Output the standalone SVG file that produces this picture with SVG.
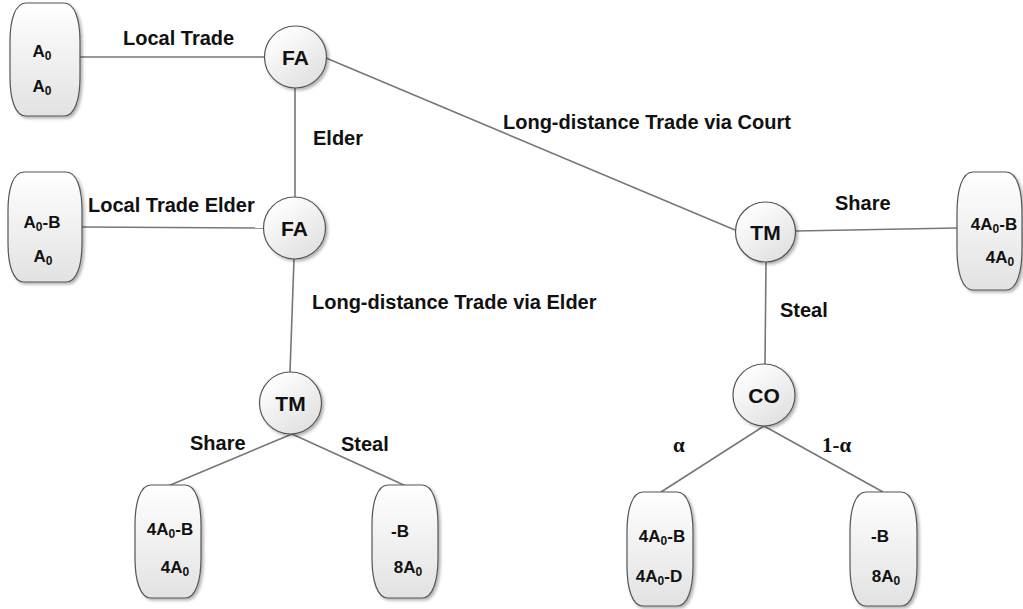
<svg xmlns="http://www.w3.org/2000/svg" width="1023" height="609" viewBox="0 0 1023 609">
<defs>
<linearGradient id="gT" x1="0" y1="0" x2="0" y2="1"><stop offset="0" stop-color="#ffffff"/><stop offset="1" stop-color="#e2e2e2"/></linearGradient>
<linearGradient id="gC" x1="0.2" y1="0.1" x2="0.8" y2="0.95"><stop offset="0" stop-color="#ffffff"/><stop offset="1" stop-color="#e0e0e0"/></linearGradient>
<filter id="sh" x="-20%" y="-20%" width="150%" height="150%"><feDropShadow dx="2" dy="2" stdDeviation="1.5" flood-color="#000" flood-opacity="0.3"/></filter>
</defs>
<style>
.conn line{stroke:#777;stroke-width:1.6;fill:none}
.term{fill:url(#gT);stroke:#555;stroke-width:1.2;filter:url(#sh)}
.circ{fill:url(#gC);stroke:#555;stroke-width:1.2;filter:url(#sh)}
.lbl{font-family:"Liberation Sans",Arial,sans-serif;font-weight:bold;font-size:20px;fill:#111}
.greek{font-family:"Liberation Serif","Times New Roman",serif;font-weight:bold;font-size:21px;fill:#111}
.nt{font-family:"Liberation Sans",Arial,sans-serif;font-weight:bold;font-size:21px;fill:#111;text-anchor:middle}
.tt{font-family:"Liberation Sans",Arial,sans-serif;font-weight:bold;font-size:17px;fill:#111;text-anchor:middle}
.sub{font-size:12px}
</style>
<rect width="1023" height="609" fill="#fff"/>
<g id="connectors" class="conn">
<line x1="80" y1="57" x2="264" y2="57"/>
<line x1="295" y1="88" x2="295" y2="197"/>
<line x1="326" y1="58" x2="735" y2="230"/>
<line x1="82" y1="227" x2="263" y2="228"/>
<line x1="294" y1="259" x2="290" y2="372"/>
<line x1="292" y1="434" x2="168" y2="486"/>
<line x1="292" y1="434" x2="406" y2="486"/>
<line x1="796" y1="231" x2="957" y2="228"/>
<line x1="766" y1="262" x2="765" y2="364"/>
<line x1="764" y1="426" x2="661" y2="492"/>
<line x1="764" y1="426" x2="883" y2="492"/>
</g>
<g id="labels">
<text class="lbl" x="123" y="45">Local Trade</text>
<text class="lbl" x="313" y="145">Elder</text>
<text class="lbl" x="503" y="129">Long-distance Trade via Court</text>
<text class="lbl" x="88" y="212">Local Trade Elder</text>
<text class="lbl" x="312" y="309">Long-distance Trade via Elder</text>
<text class="lbl" x="835" y="210">Share</text>
<text class="lbl" x="780" y="317">Steal</text>
<text class="lbl" x="190" y="450">Share</text>
<text class="lbl" x="341" y="451">Steal</text>
<text class="greek" x="673" y="452">α</text>
<text class="greek" x="822" y="452">1-α</text>
</g>
<g id="t_tl">
<path class="term" d="M26,3 H64 C75,3 80,20 80,42 V77 C80,99 75,116 64,116 H26 C15,116 10,99 10,77 V42 C10,20 15,3 26,3 Z"/>
<text class="tt" x="42" y="57">A<tspan class="sub" dy="3">0</tspan></text>
<text class="tt" x="42" y="92">A<tspan class="sub" dy="3">0</tspan></text>
</g>
<g id="t_ml">
<path class="term" d="M24,172 H66 C77,172 82,189 82,211 V243 C82,265 77,282 66,282 H24 C13,282 8,265 8,243 V211 C8,189 13,172 24,172 Z"/>
<text class="tt" x="42" y="228">A<tspan class="sub" dy="3">0</tspan><tspan dy="-3">-B</tspan></text>
<text class="tt" x="43" y="262">A<tspan class="sub" dy="3">0</tspan></text>
</g>
<g id="t_r">
<path class="term" d="M973,172 H1006 C1017,172 1022,190 1022,213 V249 C1022,272 1017,290 1006,290 H973 C962,290 957,272 957,249 V213 C957,190 962,172 973,172 Z"/>
<text class="tt" x="994" y="230">4A<tspan class="sub" dy="3">0</tspan><tspan dy="-3">-B</tspan></text>
<text class="tt" x="1000" y="263">4A<tspan class="sub" dy="3">0</tspan></text>
</g>
<g id="t_bl1">
<path class="term" d="M151,485 H185 C196,485 201,503 201,525 V558 C201,580 196,598 185,598 H151 C140,598 135,580 135,558 V525 C135,503 140,485 151,485 Z"/>
<text class="tt" x="170" y="535">4A<tspan class="sub" dy="3">0</tspan><tspan dy="-3">-B</tspan></text>
<text class="tt" x="175" y="573">4A<tspan class="sub" dy="3">0</tspan></text>
</g>
<g id="t_bl2">
<path class="term" d="M388,485 H422 C433,485 438,503 438,525 V558 C438,580 433,598 422,598 H388 C377,598 372,580 372,558 V525 C372,503 377,485 388,485 Z"/>
<text class="tt" x="400" y="537">-B</text>
<text class="tt" x="408" y="573">8A<tspan class="sub" dy="3">0</tspan></text>
</g>
<g id="t_br1">
<path class="term" d="M643,492 H677 C688,492 693,510 693,532 V566 C693,588 688,606 677,606 H643 C632,606 627,588 627,566 V532 C627,510 632,492 643,492 Z"/>
<text class="tt" x="662" y="542">4A<tspan class="sub" dy="3">0</tspan><tspan dy="-3">-B</tspan></text>
<text class="tt" x="659" y="582">4A<tspan class="sub" dy="3">0</tspan><tspan dy="-3">-D</tspan></text>
</g>
<g id="t_br2">
<path class="term" d="M866,492 H901 C912,492 917,510 917,532 V566 C917,588 912,606 901,606 H866 C855,606 850,588 850,566 V532 C850,510 855,492 866,492 Z"/>
<text class="tt" x="880" y="542">-B</text>
<text class="tt" x="886" y="582">8A<tspan class="sub" dy="3">0</tspan></text>
</g>
<g id="n_fa1"><circle class="circ" cx="295.5" cy="57" r="31"/><text class="nt" x="295.5" y="64.5">FA</text></g>
<g id="n_fa2"><circle class="circ" cx="294.5" cy="228" r="31"/><text class="nt" x="294.5" y="235.5">FA</text></g>
<g id="n_tm1"><circle class="circ" cx="290.5" cy="403" r="31"/><text class="nt" x="290.5" y="410.5">TM</text></g>
<g id="n_tm2"><circle class="circ" cx="765.5" cy="232" r="30"/><text class="nt" x="765.5" y="239.5">TM</text></g>
<g id="n_co"><circle class="circ" cx="764" cy="395" r="31"/><text class="nt" x="764" y="402.5">CO</text></g>
</svg>
